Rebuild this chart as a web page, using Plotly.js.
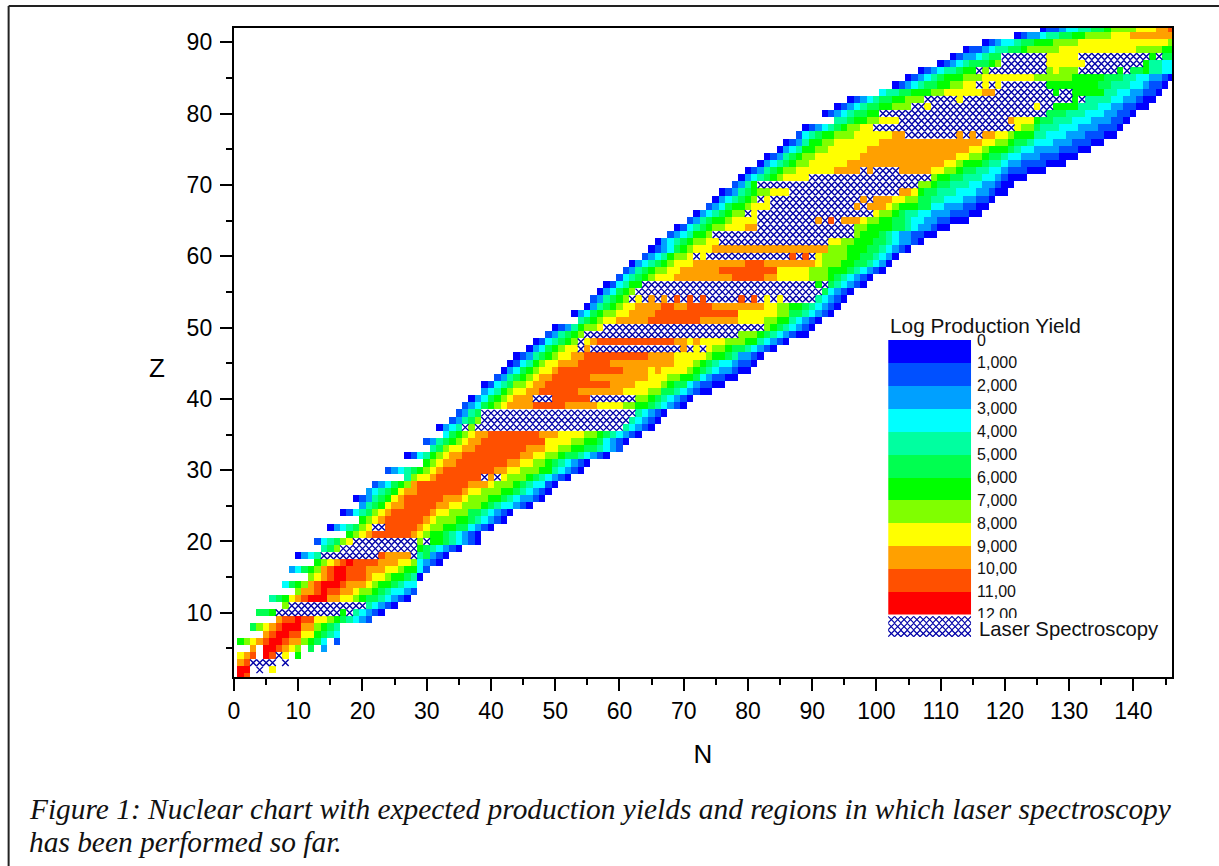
<!DOCTYPE html>
<html><head><meta charset="utf-8">
<script src="https://cdn.plot.ly/plotly-3.0.1.min.js"></script>
<style>html,body{margin:0;padding:0;background:#fff}</style></head>
<body><div id="chart" style="width:1219px;height:866px"></div>
<script>
// Band colours of the yield classes 0..b
const bandColors = ['#0000ff','#0050ff','#00a0ff','#00ffff','#00ffa0','#00ff50','#00ff00','#80ff00','#ffff00','#ffa000','#ff5000','#ff0000'];
const bandLabels = ['0','1,000','2,000','3,000','4,000','5,000','6,000','7,000','8,000','9,000','10,00','11,00','12,00'];
const bandKeys = '0123456789ab';
// One row per Z: first token = first N; then <class><count> runs. x = laser spectroscopy, . = no cell
const rowsZ01to20 = [
"1 b1 a1",
"1 b2 .1 x1 .1 81",
"1 91 a1 x4 .1 x1",
"1 81 91 a1 .1 b1 a1 x1 81 .1 61",
"3 91 .1 b2 a1 91 81 71 .1 51 .1 21",
"1 61 71 81 91 a1 b2 a1 92 71 61 51 31 .1 11",
"5 91 a1 b2 a2 82 61 51 41 31",
"3 51 71 81 91 a1 b3 92 71 61 51 41",
"7 91 a2 b1 a2 82 71 61 51 41 31 21 11",
"4 52 61 x10 61 x1 41 31 21 11 01",
"8 71 x12 41 31 21 11 01",
"6 41 51 61 81 91 a1 b3 92 82 71 61 52 41 31 21 11 01",
"10 71 92 a1 b1 a2 92 81 72 61 51 41 32 21 11",
"8 31 51 61 71 91 a1 b3 a1 93 81 71 62 51 41 32",
"12 71 81 91 a1 b2 a3 91 82 71 62 51 41 01",
"9 21 31 51 61 71 91 a1 b2 a3 93 82 71 62 31 11",
"13 61 71 81 91 a1 b1 a4 93 82 71 31 21 11 01",
"10 01 21 31 41 x9 a1 94 x1 41 51 21 11 01",
"14 41 51 71 x12 61 51 41 31 21 11 01",
"13 11 31 41 51 71 81 x10 71 x1 62 51 41 31 21 11 01"];
const rowsZ21to40 = [
"18 61 71 81 91 a6 91 81 71 62 51 41 31 21 11 01",
"15 01 21 31 41 51 71 81 x2 a5 91 81 72 62 52 31 21 11 01",
"20 61 71 81 91 a6 91 81 73 62 51 41 31 21 11 01",
"17 01 11 31 41 51 71 81 91 a6 91 82 73 52 41 31 21 11 01",
"20 21 41 51 61 81 92 a5 92 82 73 61 51 41 32 21 11 01",
"19 01 11 21 41 51 61 81 91 a6 93 81 73 62 51 41 31 22 11 01",
"21 21 31 41 51 61 81 92 a7 91 82 73 62 51 41 31 21 11 01",
"22 11 21 31 51 61 71 91 a8 93 81 73 61 51 41 32 11 01",
"27 41 71 82 91 a7 x1 91 x1 81 73 61 51 41 31 21 11 01",
"24 11 21 31 41 51 61 71 81 91 a8 92 82 73 62 41 31 21 11 01",
"30 61 71 81 92 a8 92 82 72 61 51 41 31 21 11 01",
"27 01 11 31 41 61 71 81 92 a9 92 82 72 61 52 41 31 21 11 01",
"31 41 51 71 82 92 a8 93 82 72 62 52 41 31 21 11",
"30 11 21 41 51 61 71 81 92 a10 84 72 62 51 31 21 11 01",
"33 31 51 61 71 81 92 a8 93 84 72 61 51 41 31 21 11 01",
"32 01 21 31 41 x1 71 x23 41 31 21 11 01",
"34 11 21 41 51 71 x23 41 31 21 11 01",
"35 11 21 41 51 x24 41 31 21 11 01",
"36 11 21 31 51 61 71 81 94 a5 95 84 72 62 51 41 31 21 11 01",
"37 01 21 31 51 61 71 81 93 x3 a6 x7 72 61 51 41 31 21 11 01"];
const rowsZ41to60 = [
"39 21 31 41 61 71 82 92 a6 97 84 72 52 41 31 21 11 02",
"39 01 11 31 41 51 72 81 92 a10 94 84 71 61 52 31 21 12 02",
"41 11 21 41 51 61 71 81 92 a6 99 83 72 62 51 31 21 12 02",
"42 01 21 31 51 61 71 82 91 a10 94 81 91 84 71 61 51 41 31 22 11 02",
"43 01 11 31 41 61 71 82 93 a5 910 83 71 61 51 41 32 21 12 01",
"44 01 11 21 41 51 61 71 82 92 a10 94 85 71 62 51 41 22 11 01",
"46 01 21 31 51 61 71 82 x1 91 x14 91 x1 81 x1 81 72 61 52 41 31 21 11 01",
"47 01 11 31 41 51 61 71 x1 81 91 a12 92 81 91 84 73 62 41 31 21 11 01",
"49 11 21 41 51 61 71 x24 73 61 51 41 31 21 11 02",
"50 01 11 21 41 61 72 81 x25 71 61 51 41 31 21 11 01",
"54 41 51 61 71 82 95 a8 96 84 72 62 41 31 21 11 01",
"53 01 21 31 51 61 72 82 94 a13 86 72 52 41 31 21 11 01",
"55 01 21 41 51 61 71 82 94 a2 92 a4 98 82 72 62 51 41 31 21 11 01",
"56 11 21 41 51 61 71 x1 81 x1 91 x1 91 x1 a1 x1 a1 x1 a1 x5 a1 x1 a1 x1 81 x1 81 x5 41 31 21 11 01",
"57 01 21 31 51 61 71 x29 51 31 21 11 01",
"58 01 11 31 41 62 x27 61 x1 51 41 31 21 11 01",
"60 11 31 41 51 61 71 83 99 a5 92 85 73 61 51 41 31 21 11 01",
"61 11 21 41 51 61 72 82 96 a9 85 73 63 51 41 31 21 11 01",
"62 01 21 31 41 51 61 71 83 98 a3 98 81 73 62 52 41 31 21 01",
"64 11 21 31 41 61 72 81 x1 81 x13 a1 x1 a1 x1 81 74 62 52 41 31 21 01"];
const rowsZ61to80 = [
"65 01 11 21 31 51 61 71 83 918 73 63 52 41 31 21 11 01",
"66 01 21 31 41 51 61 72 82 x17 82 72 63 52 41 31 22 11 01",
"68 11 21 31 41 62 71 x22 71 63 51 41 31 22 12 02",
"69 01 11 31 41 51 61 72 83 92 x15 72 64 52 41 31 22 11 02",
"71 11 21 41 51 62 71 84 x9 91 x1 a1 x1 93 81 72 62 52 41 32 22 12 03",
"72 01 21 31 41 51 61 72 x1 81 x18 81 72 61 51 42 32 23 13 02",
"74 11 21 31 51 62 71 83 x13 91 x1 93 81 71 63 52 32 23 12 02",
"75 01 21 31 41 51 61 71 x1 81 x14 91 x1 93 82 72 52 42 33 22 12 01",
"76 01 11 21 41 51 61 72 83 x17 92 81 61 52 43 33 22 11 02",
"78 11 21 41 61 x25 72 61 52 43 32 22 11 02",
"79 01 21 31 41 51 61 71 84 x19 71 62 52 43 32 21 11 03",
"80 01 11 21 41 51 61 72 86 94 x1 91 x4 95 82 72 61 52 42 32 21 13 03",
"82 01 21 31 41 51 61 72 86 915 82 71 63 51 42 31 22 14 03",
"83 01 11 21 41 51 61 72 87 915 82 72 61 52 41 32 23 13 03",
"85 01 21 31 41 62 72 86 916 82 71 63 51 41 32 24 13 02",
"86 01 11 21 41 62 72 87 916 82 72 61 52 41 33 23 13 02",
"88 11 31 41 51 62 73 86 92 x8 91 x1 91 x1 92 82 71 63 42 33 23 13 02",
"89 01 11 21 31 41 51 61 72 82 x22 81 72 51 43 33 23 13 01",
"94 42 51 62 72 83 x17 91 83 61 52 43 33 23 12 01",
"92 01 11 21 31 41 52 62 x26 53 43 33 22 12 01"];
const rowsZ81to92 = [
"94 01 11 21 31 41 52 62 73 x2 81 x16 81 x2 64 43 32 22 12 02",
"96 01 11 21 31 41 52 62 73 x5 81 x17 61 x1 44 32 22 11 02",
"101 31 42 52 63 72 86 92 x9 61 x2 65 42 32 22 12 01",
"103 01 11 21 31 41 52 62 72 82 x1 81 x1 81 x7 68 52 43 32 21 12 01",
"105 01 11 21 31 41 51 63 73 88 76 65 53 42 32 22 11 01",
"107 01 11 21 31 42 51 62 x1 71 x9 71 81 73 x6 61 x1 52 61 42 32",
"110 01 11 21 31 41 53 61 71 x7 86 x9 61 42 32",
"112 01 11 22 31 41 52 x7 85 x11 61 x1 52",
"114 01 12 21 31 42 52 61 75 812 74 62",
"117 01 11 21 32 41 52 63 74 814 71",
"122 01 11 22 31 42 52 62 74 83 97",
"126 01 12 21 32 42 52 61 74 83 92 a1"];
const allRows = [...rowsZ01to20, ...rowsZ21to40, ...rowsZ41to60, ...rowsZ61to80, ...rowsZ81to92];
const captionLines = ['Figure 1: Nuclear chart with expected production yields and regions in which laser spectroscopy','has been performed so far.'];
const legendTitle = 'Log Production Yield';
const hatchLabel = 'Laser Spectroscopy';
const hatchColor = '#0000a8';

const nValues = []; for (let n = 0; n <= 146; n++) nValues.push(n);
const zValues = allRows.map((_, i) => i + 1);
const grid = zValues.map(() => nValues.map(() => null));
const hatchN = [], hatchZ = [];
allRows.forEach((row, i) => {
  const tok = row.split(' ');
  let n = parseInt(tok[0], 10);
  tok.slice(1).forEach(t => {
    const c = t[0], len = parseInt(t.slice(1), 10);
    for (let k = 0; k < len; k++, n++) {
      if (c === 'x') { hatchN.push(n); hatchZ.push(i + 1); }
      else if (c !== '.' && n <= 146) grid[i][n] = bandKeys.indexOf(c) + 0.5;
    }
  });
});
const scale = [];
bandColors.forEach((c, i) => { scale.push([i / 12, c]); scale.push([(i + 1) / 12, c]); });

// page pixel -> paper fraction
const L = 233.5, R = 1172, T = 28, B = 677;
const fx = p => (p - L) / (R - L), fy = p => (B - p) / (B - T);

const legendCols = [], legendRows = [];
for (let r = 0; r < 3; r++) for (let c = 0; c < 13; c++) { legendCols.push(c + 0.5); legendRows.push(r + 0.5); }
const legendBandY = bandColors.map((_, i) => i + 0.5);
const legendBandZ = bandColors.map((_, i) => [i + 0.5]);

const traces = [
 {type:'heatmap', x:nValues, y:zValues, z:grid, zmin:0, zmax:12, colorscale:scale, hoverongaps:false, zsmooth:false, showscale:false},
 {type:'scatter', mode:'markers', x:hatchN, y:hatchZ, hoverinfo:'skip', showlegend:false,
  marker:{symbol:'x-thin', size:6.5, line:{width:1.4, color:hatchColor}, color:hatchColor}},
 {type:'heatmap', x:[0], y:legendBandY, z:legendBandZ, xaxis:'x3', yaxis:'y3', zmin:0, zmax:12, colorscale:scale, showscale:false, hoverinfo:'skip'},
 {type:'scatter', mode:'markers', x:legendCols, y:legendRows, xaxis:'x2', yaxis:'y2', hoverinfo:'skip', showlegend:false,
  marker:{symbol:'x-thin', size:6.5, line:{width:1.2, color:hatchColor}, color:hatchColor}}
];
const axisFont = {family:'Liberation Sans, Arial', size:23, color:'#000'};
const ann = (text, px, py, o) => Object.assign({text, x:fx(px), y:fy(py), xref:'paper', yref:'paper', showarrow:false, xanchor:'left', yanchor:'middle'}, o);
const serif = {family:'Liberation Serif, Times New Roman', size:29.4, style:'italic', color:'#111'};
const minorTicks = {dtick:5, ticks:'outside', ticklen:6, tickwidth:2, tickcolor:'#000', showgrid:false};
const layout = {
 width:1219, height:866, autosize:false, paper_bgcolor:'#fff', plot_bgcolor:'#fff', showlegend:false,
 margin:{l:L, r:1219-R, t:T, b:866-B, pad:0, autoexpand:false},
 xaxis:{range:[0,146], tick0:0, dtick:10, ticks:'outside', ticklen:12, tickwidth:2, tickcolor:'#000', showgrid:false, zeroline:false,
   showline:true, mirror:true, linewidth:2.2, linecolor:'#000', tickfont:axisFont, minor:minorTicks,
   title:{text:'N', font:{family:'Liberation Sans, Arial', size:26, color:'#000'}, standoff:22}},
 yaxis:{range:[1,92], tick0:0, dtick:10, ticks:'outside', ticklen:12, tickwidth:2, tickcolor:'#000', showgrid:false, zeroline:false,
   showline:true, mirror:true, linewidth:2.2, linecolor:'#000', tickfont:axisFont, ticklabelstandoff:3, minor:minorTicks},
 xaxis2:{domain:[fx(888), fx(971)], range:[0,13], visible:false, anchor:'y2', fixedrange:true},
 yaxis2:{domain:[fy(637), fy(614)], range:[0,3.3], visible:false, anchor:'x2', fixedrange:true},
 xaxis3:{domain:[fx(888), fx(971)], range:[-0.5,0.5], visible:false, anchor:'y3', fixedrange:true},
 yaxis3:{domain:[fy(614.6), fy(340)], range:[12,0], side:'right', anchor:'x3', fixedrange:true, showgrid:false, zeroline:false, showline:false,
   ticks:'', tickmode:'array', tickvals:bandLabels.map((_,i)=>i), ticktext:bandLabels, ticklabelstandoff:5,
   tickfont:{family:'Liberation Sans, Arial', size:16, color:'#111'}},
 shapes:[
  {type:'line', xref:'paper', yref:'paper', x0:fx(8), x1:fx(8), y0:fy(6), y1:fy(866), line:{color:'#222', width:2}},
  {type:'line', xref:'paper', yref:'paper', x0:fx(8), x1:fx(1219), y0:fy(6), y1:fy(6), line:{color:'#222', width:2}}
 ],
 annotations:[
  ann('&nbsp;', 975, 622.5, {bgcolor:'#fff', width:60, height:9, borderpad:0, borderwidth:0, captureevents:false}),
  ann(legendTitle, 888, 325, {font:{family:'Liberation Sans, Arial', size:20.8, color:'#111'}}),
  ann(hatchLabel, 977, 629, {font:{family:'Liberation Sans, Arial', size:20.3, color:'#111'}}),
  ann('Z', 146, 368, {font:{family:'Liberation Sans, Arial', size:26, color:'#000'}}),
  ann(captionLines[0], 26, 809, {font:serif}),
  ann(captionLines[1], 26, 842, {font:serif})
 ]
};
Plotly.newPlot('chart', traces, layout, {displayModeBar:false, staticPlot:true});
</script></body></html>
